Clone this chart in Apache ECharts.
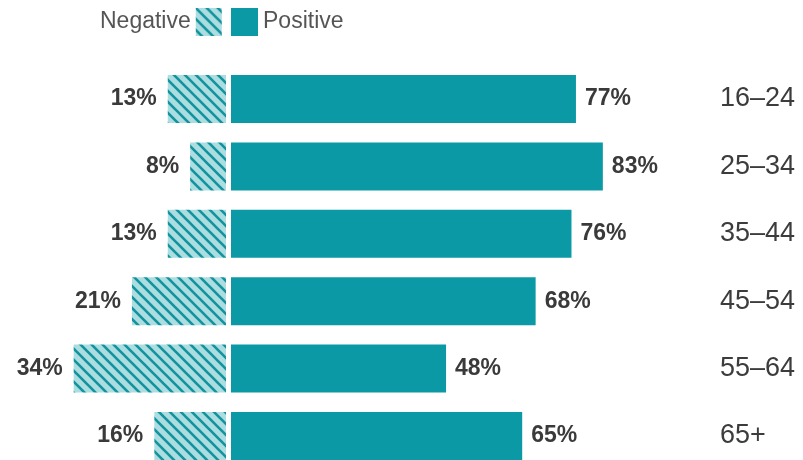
<!DOCTYPE html>
<html><head><meta charset="utf-8">
<script src="https://cdn.jsdelivr.net/npm/echarts@6/dist/echarts.min.js"></script>
<style>html,body{margin:0;padding:0;background:#fff}#c{width:803px;height:460px}</style>
</head><body><div id="c"></div>
<script>
const categories = ['16–24', '25–34', '35–44', '45–54', '55–64', '65+'];
const negativeValues = [13, 8, 13, 21, 34, 16];
const positiveValues = [77, 83, 76, 68, 48, 65];

const TEAL = '#0b9aa5';
function makePattern() {
  const s = 11;
  const cv = document.createElement('canvas');
  cv.width = s; cv.height = s;
  const ctx = cv.getContext('2d');
  ctx.fillStyle = '#abdde1';
  ctx.fillRect(0, 0, s, s);
  ctx.strokeStyle = '#12939d';
  ctx.lineWidth = 2.6;
  ctx.beginPath();
  for (let k = -1; k <= 1; k++) {
    ctx.moveTo(k * s - 2, -2);
    ctx.lineTo(k * s + s + 2, s + 2);
  }
  ctx.stroke();
  return cv;
}
const pattern = { image: makePattern(), repeat: 'repeat' };

const chart = echarts.init(document.getElementById('c'), null, { renderer: 'canvas' });
const font = "'Liberation Sans', Arial, sans-serif";
chart.setOption({
  animation: false,
  legend: [
    { data: ['Negative'], left: 100, top: 8, align: 'right', itemWidth: 26, itemHeight: 28, icon: 'rect', padding: 0, itemGap: 0,
      textStyle: { fontFamily: font, fontSize: 23, color: '#555' } },
    { data: ['Positive'], left: 231, top: 8, align: 'left', itemWidth: 27, itemHeight: 28, icon: 'rect', padding: 0, itemGap: 0,
      textStyle: { fontFamily: font, fontSize: 23, color: '#555' } }
  ],
  grid: [
    { left: 46.8, width: 179.2, top: 65.3, height: 404.4, outerBoundsMode: 'none' },
    { left: 231, width: 448, top: 65.3, height: 404.4, outerBoundsMode: 'none' }
  ],
  xAxis: [
    { type: 'value', gridIndex: 0, min: 0, max: 40, inverse: true, show: false },
    { type: 'value', gridIndex: 1, min: 0, max: 100, show: false }
  ],
  yAxis: [
    { type: 'category', gridIndex: 0, data: categories, inverse: true, show: false },
    { type: 'category', gridIndex: 1, data: categories, inverse: true, position: 'right',
      axisLine: { show: false }, axisTick: { show: false }, splitLine: { show: false },
      axisLabel: { margin: 41, align: 'left', verticalAlign: 'middle', padding: [0, 0, 5, 0], fontFamily: font, fontSize: 27, color: '#3c3c3c' } }
  ],
  series: [
    { name: 'Negative', type: 'bar', xAxisIndex: 0, yAxisIndex: 0, data: negativeValues, barWidth: 48,
      itemStyle: { color: pattern },
      label: { show: true, position: 'left', distance: 11, formatter: '{c}%', fontFamily: font, fontSize: 23, fontWeight: 'bold', color: '#3a3a3a' } },
    { name: 'Positive', type: 'bar', xAxisIndex: 1, yAxisIndex: 1, data: positiveValues, barWidth: 48,
      itemStyle: { color: TEAL },
      label: { show: true, position: 'right', distance: 9, formatter: '{c}%', fontFamily: font, fontSize: 23, fontWeight: 'bold', color: '#3a3a3a' } }
  ]
});
</script></body></html>
